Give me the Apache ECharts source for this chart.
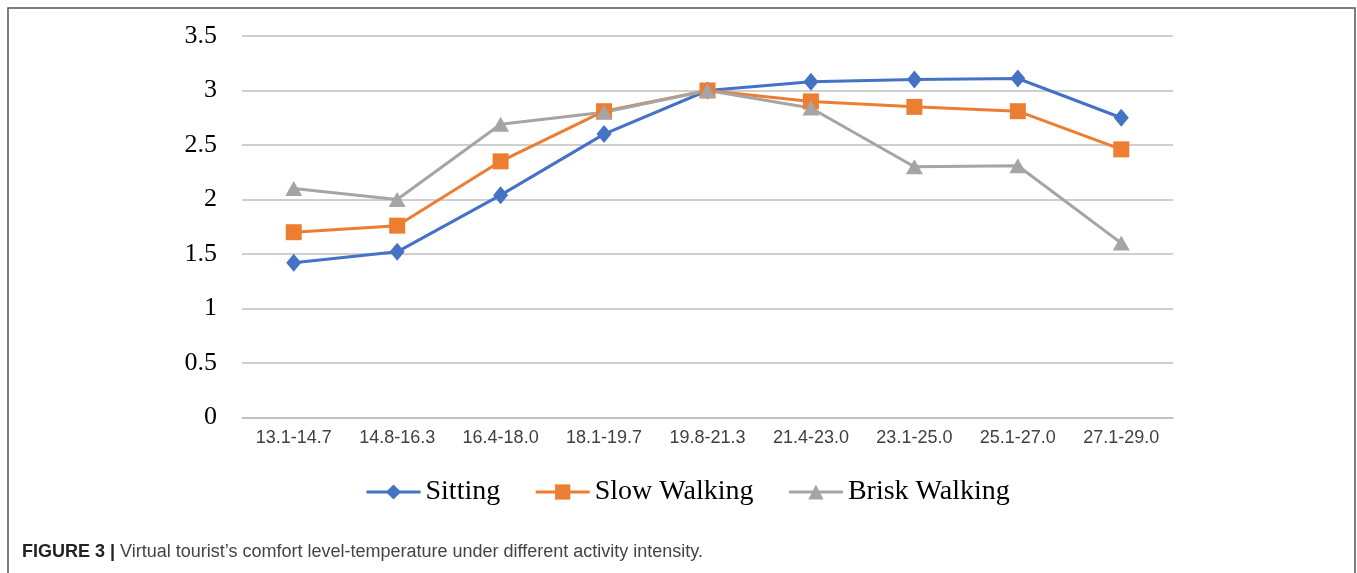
<!DOCTYPE html>
<html>
<head>
<meta charset="utf-8">
<script src="https://cdn.jsdelivr.net/npm/echarts@6/dist/echarts.min.js"></script>
<style>
  html, body { margin: 0; padding: 0; background: #fff; }
  #chart { width: 1357px; height: 573px; }
</style>
</head>
<body>
<div id="chart"></div>
<script>
// temperature ranges
const categories = ['13.1-14.7', '14.8-16.3', '16.4-18.0', '18.1-19.7', '19.8-21.3',
  '21.4-23.0', '23.1-25.0', '25.1-27.0', '27.1-29.0']
const sitting = [1.42, 1.52, 2.04, 2.60, 3.00, 3.08, 3.10, 3.11, 2.75]
const slowWalking = [1.70, 1.76, 2.35, 2.81, 3.00, 2.90, 2.85, 2.81, 2.46]
const briskWalking = [2.10, 2.00, 2.69, 2.80, 3.00, 2.84, 2.30, 2.31, 1.60]
const caption = 'Virtual tourist\u2019s comfort level-temperature under different activity intensity.'

const chart = echarts.init(document.getElementById('chart'), null, { renderer: 'canvas' })

const makeSeries = (name, data, color, symbol, size) => ({
  name: name,
  type: 'line',
  data: data,
  symbol: symbol,
  symbolSize: size,
  showAllSymbol: true,
  lineStyle: { color: color, width: 3 },
  itemStyle: { color: color },
  emphasis: { disabled: true },
  animation: false
})

chart.setOption({
  backgroundColor: '#fff',
  animation: false,
  grid: { left: 242, right: 184, top: 36, bottom: 155.5 },
  legend: {
    left: 360,
    top: 473,
    itemWidth: 54,
    itemHeight: 19,
    itemGap: 34,
    lineStyle: { width: 3 },
    textStyle: { fontFamily: 'Liberation Serif', fontSize: 28, color: '#000' },
    data: ['Sitting', 'Slow Walking', 'Brisk Walking']
  },
  xAxis: {
    type: 'category',
    data: categories,
    boundaryGap: true,
    axisLine: { lineStyle: { color: '#bfbfbf', width: 1.5 } },
    axisTick: { show: false },
    axisLabel: {
      interval: 0,
      margin: 12,
      fontFamily: 'Liberation Sans',
      fontSize: 18,
      color: '#404040'
    }
  },
  yAxis: {
    type: 'value',
    min: 0,
    max: 3.5,
    interval: 0.5,
    axisLine: { show: false },
    axisTick: { show: false },
    splitLine: { lineStyle: { color: '#bfbfbf', width: 1.5 } },
    axisLabel: {
      margin: 25,
      fontFamily: 'Liberation Serif',
      fontSize: 26,
      color: '#000'
    }
  },
  series: [
    makeSeries('Sitting', sitting, '#4472C4', 'diamond', [15, 18]),
    makeSeries('Slow Walking', slowWalking, '#ED7D31', 'rect', 16),
    makeSeries('Brisk Walking', briskWalking, '#A5A5A5', 'triangle', [17, 15])
  ],
  graphic: [
    {
      type: 'rect',
      silent: true,
      shape: { x: 8, y: 8, width: 1347, height: 600 },
      style: { fill: 'none', stroke: '#555', lineWidth: 1.5 }
    },
    {
      type: 'text',
      left: 22,
      top: 543,
      style: {
        text: '{b|FIGURE 3 |} ' + caption,
        fontFamily: 'Liberation Sans',
        fontSize: 18,
        fill: '#444',
        rich: {
          b: { fontFamily: 'Liberation Sans', fontSize: 18, fontWeight: 'bold', fill: '#222' }
        }
      }
    }
  ]
})
</script>
</body>
</html>
